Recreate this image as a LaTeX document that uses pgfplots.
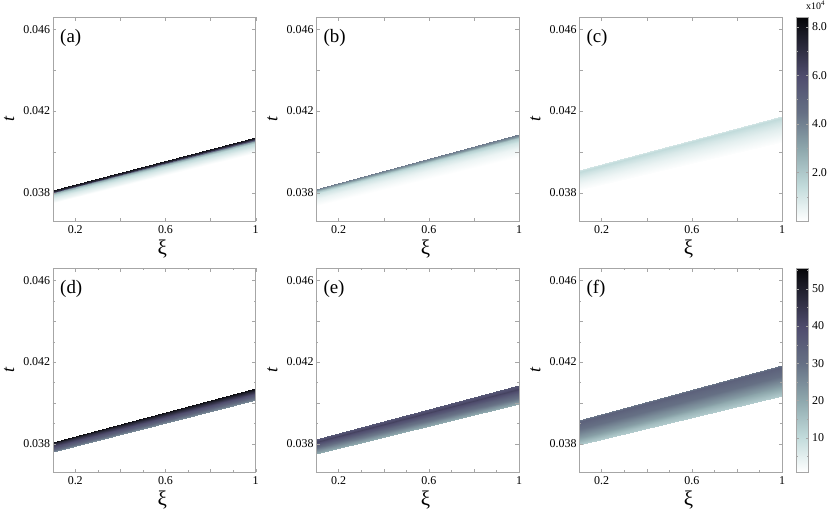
\documentclass[border=0pt]{standalone}
\usepackage{fontspec}
\setmainfont{Liberation Serif}
\usepackage{pgfplots}
\pgfplotsset{compat=1.18}

\pgfplotsset{
  colormap={mma}{rgb(0pt)=(1,1,1); rgb(17pt)=(0.76,0.86,0.86); rgb(35pt)=(0.56,0.66,0.68);
    rgb(53pt)=(0.40,0.44,0.52); rgb(71pt)=(0.31,0.30,0.43); rgb(90pt)=(0.12,0.12,0.17);
    rgb(100pt)=(0.02,0.02,0.03)},
  panel/.style={
    scale only axis, width=203bp, height=204bp,
    xmin=0.1, xmax=1, ymin=0.03661, ymax=0.04661,
    scaled x ticks=false, scaled y ticks=false, clip mode=individual,
    axis line style={gray!70}, tick style={gray!70}, tick align=inside,
    major tick length=3.5bp, minor tick length=2bp,
    xtick={0.2,0.4,0.6,0.8,1}, xticklabels={0.2,,0.6,,1},
    ytick={0.038,0.040,0.042,0.044,0.046}, yticklabels={0.038,,0.042,,0.046},
    ticklabel style={font=\fontsize{12}{13}\selectfont},
    xticklabel style={yshift=-1bp}, yticklabel style={xshift=1bp},
    colormap name=mma, axis on top,
  },
  row1/.style={point meta min=0, point meta max=8.4},
  row2/.style={point meta min=0.8, point meta max=55.6, minor x tick num=1, minor y tick num=1},
  band/.style={surf, shader=interp, mesh/cols=2, point meta=explicit},
  cbar/.style={colorbar, colorbar style={
    at={(parent axis.north east)}, anchor=north west, xshift=6bp,
    scale only axis, width=12bp, height=204bp,
    scaled y ticks=false,
    axis line style={gray!70}, tick style={gray!70}, tick align=inside,
    major tick length=2.5bp, minor tick length=1.5bp,
    yticklabel style={font=\fontsize{12}{13}\selectfont, xshift=0bp}}},
}
\newcommand{\axlabels}[1]{%
  \node[anchor=north west, inner sep=0, font=\fontsize{19}{20}\selectfont] at (axis description cs:0.036,0.94) {(#1)};
  \node[rotate=90, font=\fontsize{18}{19}\selectfont] at (axis description cs:-0.215,0.5) {\textit{t}};
  \node[font=\fontsize{21}{22}\selectfont] at (axis description cs:0.54,-0.135) {ξ};
}

\begin{document}
\begin{tikzpicture}
\path[use as bounding box] (0bp,0bp) rectangle (830bp,-515bp);

% (a)
\begin{axis}[panel, row1, at={(52.7bp,-221bp)}, anchor=south west]
\addplot[band] table[meta=c] {
x y c
0.1 0.03811 8.2
1.0 0.04072 8.2
0.1 0.03803 7.0
1.0 0.04062 7.0
0.1 0.03797 3.0
1.0 0.04054 3.0
0.1 0.03789 1.6
1.0 0.04043 1.6
0.1 0.03775 0.8
1.0 0.04024 0.8
0.1 0.03760 0.35
1.0 0.04007 0.35
0.1 0.03747 0.0
1.0 0.03992 0.0
};
\axlabels{a}
\end{axis}

% (b)
\begin{axis}[panel, row1, at={(316bp,-221bp)}, anchor=south west]
\addplot[band] table[meta=c] {
x y c
0.1 0.03819 4.3
1.0 0.04089 4.3
0.1 0.03812 3.6
1.0 0.04080 3.6
0.1 0.03804 2.0
1.0 0.04068 2.0
0.1 0.03792 1.1
1.0 0.04050 1.1
0.1 0.03770 0.45
1.0 0.04020 0.45
0.1 0.03737 0.0
1.0 0.03974 0.0
};
\axlabels{b}
\end{axis}

% (c)
\begin{axis}[panel, row1, at={(579bp,-221bp)}, anchor=south west, cbar,
  colorbar style={ytick={2,4,6,8}, yticklabels={2.0,4.0,6.0,8.0}, minor ytick={1,3,5,7}}]
\addplot[band] table[meta=c] {
x y c
0.1 0.03909 1.0
1.0 0.04174 1.0
0.1 0.03903 1.45
1.0 0.04166 1.45
0.1 0.03887 1.1
1.0 0.04144 1.1
0.1 0.03866 0.7
1.0 0.04117 0.7
0.1 0.03840 0.35
1.0 0.04084 0.35
0.1 0.03811 0.05
1.0 0.04048 0.05
};
\axlabels{c}
\end{axis}

% (d)
\begin{axis}[panel, row2, at={(52.7bp,-472bp)}, anchor=south west]
\addplot[band] table[meta=c] {
x y c
0.1 0.03808 55
1.0 0.04072 55
0.1 0.03796 47
1.0 0.04057 47
0.1 0.03783 39
1.0 0.04042 39
0.1 0.03770 32
1.0 0.04027 32
0.1 0.03758 25
1.0 0.04012 25
};
\axlabels{d}
\end{axis}

% (e)
\begin{axis}[panel, row2, at={(316bp,-472bp)}, anchor=south west]
\addplot[band] table[meta=c] {
x y c
0.1 0.03824 36
1.0 0.04086 36
0.1 0.03810 42
1.0 0.04069 42
0.1 0.03792 36
1.0 0.04046 36
0.1 0.03772 28
1.0 0.04021 28
0.1 0.03751 19
1.0 0.03996 19
};
\axlabels{e}
\end{axis}

% (f)
\begin{axis}[panel, row2, at={(579bp,-472bp)}, anchor=south west, cbar,
  colorbar style={ytick={10,20,30,40,50}, yticklabels={10,20,30,40,50}, minor ytick={5,15,25,35,45,55}}]
\addplot[band] table[meta=c] {
x y c
0.1 0.03914 28
1.0 0.04187 28
0.1 0.03905 34
1.0 0.04176 34
0.1 0.03870 30
1.0 0.04133 30
0.1 0.03830 22
1.0 0.04085 22
0.1 0.03791 13
1.0 0.04036 13
};
\axlabels{f}
\end{axis}

\node[anchor=north west, inner sep=0, font=\fontsize{10}{11}\selectfont] at (806bp,-1bp) {x10\textsuperscript{4}};
\end{tikzpicture}
\end{document}
